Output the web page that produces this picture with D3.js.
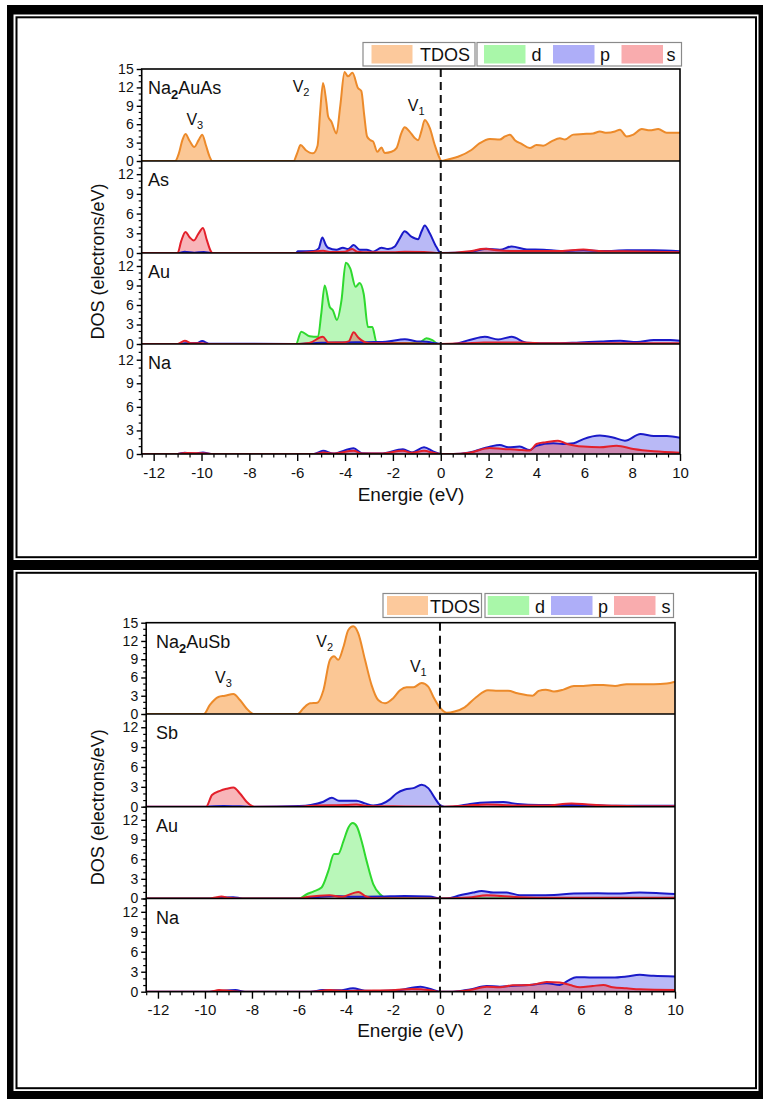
<!DOCTYPE html>
<html>
<head>
<meta charset="utf-8">
<script src="https://cdn.jsdelivr.net/npm/d3@7"></script>
<style>
  body { margin: 0; background: #fff; }
  svg { display: block; }
  text { font-family: "Liberation Sans", Arial, sans-serif; fill: #111; }
</style>
</head>
<body>
<svg id="chart" width="763" height="1099"></svg>
<script>
// ---------- data: [energy (eV), DOS (electrons/eV)] ----------
const energyDomain = [-12.5, 10];
const xTickValues = [-12, -10, -8, -6, -4, -2, 0, 2, 4, 6, 8, 10];
const yTicksTotal = [0, 3, 6, 9, 12, 15];
const yTicksPartial = [0, 3, 6, 9, 12];

// Na2AuAs
const asTdos = [[-12.5,0],[-11.1,0],[-10.95,1.2],[-10.8,3.4],[-10.67,4.4],[-10.5,3.3],[-10.3,2.3],[-10.12,3.4],[-9.97,4.3],[-9.82,2.6],[-9.65,0.6],[-9.55,0],[-6.15,0],[-6.0,1.3],[-5.86,2.6],[-5.65,1.8],[-5.34,1.25],[-5.15,2.5],[-5.05,7.5],[-4.92,12.7],[-4.78,9.5],[-4.71,7.3],[-4.57,6.4],[-4.36,4.5],[-4.2,9.0],[-4.02,14.5],[-3.88,13.8],[-3.69,14.4],[-3.46,11.9],[-3.32,11.4],[-3.2,7.5],[-3.08,4.0],[-2.94,3.4],[-2.83,3.2],[-2.65,1.5],[-2.48,2.2],[-2.34,1.3],[-2.06,1.5],[-1.85,2.1],[-1.65,4.5],[-1.51,5.5],[-1.3,4.8],[-1.1,3.8],[-0.95,3.4],[-0.8,5.0],[-0.67,6.7],[-0.46,5.4],[-0.25,2.6],[-0.04,0.4],[0.02,0],[0.3,0.25],[0.72,0.7],[1.28,1.8],[1.63,2.9],[2.05,3.6],[2.47,3.5],[2.68,4.0],[2.89,4.3],[3.1,3.4],[3.38,2.8],[3.72,2.1],[4.0,2.6],[4.28,2.5],[4.63,3.2],[4.98,3.7],[5.19,3.5],[5.54,4.3],[5.95,4.4],[6.37,4.5],[6.65,4.8],[6.93,4.6],[7.28,4.8],[7.49,5.1],[7.77,4.0],[8.05,4.3],[8.4,5.2],[8.74,5.0],[9.09,5.2],[9.44,4.6],[9.72,4.6],[10,4.6]];
const asAsS = [[-12.5,0],[-11.0,0],[-10.85,1.8],[-10.67,3.2],[-10.5,2.4],[-10.32,1.9],[-10.12,3.0],[-9.94,3.8],[-9.78,2.0],[-9.6,0.2],[-9.55,0],[-6.0,0],[-5.5,0.1],[-4.92,0.35],[-4.6,0.15],[-4.0,0.2],[-3.7,0.6],[-3.5,0.2],[-3.0,0.1],[-2,0.1],[-1.5,0.2],[-0.7,0.15],[0,0],[0.6,0.05],[1.2,0.25],[1.84,0.65],[2.33,0.4],[3.03,0.3],[4.3,0.3],[5.0,0.3],[5.96,0.55],[6.6,0.3],[7.6,0.25],[10,0.1]];
const asAsP = [[-12.5,0],[-11.0,0],[-10.7,0.2],[-10.3,0.05],[-9.9,0.15],[-9.6,0],[-6.05,0],[-5.97,0.25],[-5.3,0.3],[-5.1,0.7],[-4.95,2.35],[-4.8,1.2],[-4.71,0.8],[-4.36,0.5],[-4.09,0.8],[-3.88,0.6],[-3.64,1.2],[-3.39,0.5],[-3.1,0.5],[-2.83,0.2],[-2.48,0.8],[-2.2,0.6],[-1.92,1.0],[-1.7,2.3],[-1.51,3.3],[-1.23,2.5],[-0.95,2.1],[-0.8,3.3],[-0.67,4.2],[-0.46,3.0],[-0.18,0.9],[0,0],[0.6,0.02],[1.21,0.15],[1.91,0.65],[2.47,0.5],[2.96,1.0],[3.6,0.55],[4.3,0.5],[5.0,0.3],[5.96,0.4],[6.8,0.3],[7.78,0.4],[8.9,0.4],[10,0.25]];
const asAuD = [[-12.5,0],[-6.05,0],[-5.83,1.9],[-5.48,1.2],[-5.13,1.1],[-5.0,4.5],[-4.85,9.0],[-4.64,5.7],[-4.51,5.2],[-4.34,3.7],[-4.15,6.7],[-3.97,12.5],[-3.78,11.6],[-3.56,8.8],[-3.39,9.4],[-3.22,7.7],[-3.04,2.6],[-2.86,2.6],[-2.69,0.35],[-2.4,0.15],[-1.5,0.15],[-0.9,0.2],[-0.6,0.9],[-0.35,0.6],[-0.1,0],[10,0]];
const asAuS = [[-12.5,0],[-11.0,0],[-10.7,0.5],[-10.4,0.1],[-10.0,0.1],[-9.6,0],[-6.0,0],[-5.5,0.15],[-4.93,1.1],[-4.7,0.25],[-4.1,0.25],[-3.85,0.4],[-3.64,1.8],[-3.45,1.0],[-3.32,0.6],[-3.0,0.1],[-1.5,0.1],[0,0],[1.0,0.1],[1.8,0.25],[2.96,0.25],[3.6,0.2],[4.5,0.1],[10,0.1]];
const asAuP = [[-12.5,0],[-11.0,0],[-10.7,0.1],[-10.2,0.15],[-9.97,0.45],[-9.7,0.05],[-6.0,0],[-5.0,0.2],[-4.0,0.25],[-2.8,0.3],[-2.3,0.35],[-1.5,0.75],[-1.0,0.4],[-0.6,0.35],[-0.2,0.1],[0,0],[0.5,0],[1.2,0.6],[1.84,1.1],[2.4,0.7],[2.96,1.1],[3.6,0.2],[4.6,0.1],[5.8,0.25],[6.7,0.4],[7.5,0.5],[8.2,0.3],[8.9,0.6],[9.6,0.6],[10,0.5]];
const asNaS = [[-12.5,0],[-11,0],[-10.7,0.12],[-10,0.1],[-9.6,0],[-5.3,0],[-4.9,0.2],[-4.5,0.05],[-3.64,0.4],[-3.3,0.05],[-2.5,0.05],[-1.58,0.4],[-1.2,0.15],[-0.7,0.4],[-0.3,0.15],[0,0],[0.52,0],[1.2,0.17],[2.05,0.77],[2.6,0.64],[3.2,0.55],[3.72,0.43],[4.0,1.28],[4.4,1.5],[4.9,1.7],[5.28,1.28],[5.96,0.94],[6.65,0.85],[7.35,1.06],[8.05,0.64],[8.9,0.34],[10,0.17]];
const asNaP = [[-12.5,0],[-11.0,0],[-10.7,0.17],[-10.3,0.05],[-9.94,0.2],[-9.6,0],[-5.3,0],[-4.92,0.4],[-4.5,0.05],[-3.64,0.72],[-3.3,0.1],[-2.5,0.05],[-1.58,0.6],[-1.2,0.2],[-0.7,0.85],[-0.3,0.3],[0,0],[0.52,0],[1.2,0.2],[2.05,0.94],[2.47,1.15],[2.82,0.85],[3.3,0.94],[3.72,0.5],[4.0,1.06],[4.7,1.36],[5.1,1.28],[5.55,1.36],[5.96,1.9],[6.65,2.34],[7.2,2.1],[7.7,1.7],[8.35,2.55],[8.9,2.3],[9.45,2.3],[10,2.05]];

// Na2AuSb
const sbTdos = [[-12.5,0],[-10.05,0],[-9.79,1.5],[-9.43,2.8],[-9.15,3.0],[-8.79,3.3],[-8.51,2.3],[-8.23,0.9],[-8.0,0.1],[-7.9,0],[-6.05,0],[-5.82,0.9],[-5.53,1.75],[-5.22,1.85],[-4.96,3.9],[-4.68,8.9],[-4.51,9.5],[-4.33,8.9],[-4.11,11.0],[-3.9,13.8],[-3.69,14.4],[-3.48,13.3],[-3.19,8.9],[-2.91,4.75],[-2.63,2.3],[-2.34,1.75],[-1.99,2.6],[-1.7,3.9],[-1.42,4.4],[-1.13,4.4],[-0.78,5.1],[-0.5,4.5],[-0.28,2.8],[-0.03,1.2],[0.28,0.2],[0.62,0.4],[1.05,1.1],[1.55,2.8],[2.04,3.9],[2.47,3.8],[2.9,3.8],[3.3,3.4],[3.94,3.0],[4.2,3.8],[4.5,4.0],[4.85,3.7],[5.25,4.0],[5.7,4.6],[6.1,4.6],[6.55,4.75],[6.95,4.75],[7.45,4.6],[7.94,4.9],[8.5,4.9],[9.1,4.9],[9.65,5.0],[10,5.3]];
const sbSbS = [[-12.5,0],[-9.95,0],[-9.7,1.76],[-9.36,2.4],[-9.08,2.7],[-8.79,2.9],[-8.51,2.0],[-8.23,0.75],[-8.0,0.1],[-7.9,0],[-6.0,0],[-5.2,0.2],[-4.0,0.25],[-3.55,0.35],[-3.1,0.1],[-2,0.05],[0,0],[1.1,0.15],[2.0,0.35],[3.3,0.2],[4.5,0.2],[5.6,0.5],[6.3,0.35],[7.5,0.15],[10,0.05]];
const sbSbP = [[-12.5,0],[-10,0],[-9.2,0.1],[-8.5,0.05],[-8,0],[-6.0,0.1],[-5.5,0.25],[-4.96,0.75],[-4.6,1.36],[-4.3,0.9],[-3.97,0.9],[-3.55,0.9],[-3.19,0.5],[-2.84,0.2],[-2.48,0.4],[-2.13,1.1],[-1.85,2.0],[-1.49,2.6],[-1.13,2.8],[-0.78,3.3],[-0.5,2.8],[-0.21,1.26],[0,0.25],[0.2,0],[0.55,0],[1.1,0.3],[1.7,0.6],[2.7,0.7],[3.3,0.4],[4.2,0.25],[5.35,0.25],[6.3,0.25],[7.5,0.15],[10,0.15]];
const sbAuD = [[-12.5,0],[-6.0,0],[-5.67,0.65],[-5.39,1.06],[-5.04,1.67],[-4.75,4.2],[-4.51,6.8],[-4.33,6.8],[-4.11,8.7],[-3.9,10.8],[-3.71,11.5],[-3.54,11.0],[-3.33,8.7],[-3.12,5.7],[-2.84,2.2],[-2.55,0.65],[-2.34,0.15],[-2.0,0],[10,0]];
const sbAuS = [[-12.5,0],[-9.8,0],[-9.5,0.2],[-9.3,0.3],[-9.0,0.1],[-8.6,0],[-6.0,0],[-5.6,0.25],[-4.7,0.5],[-4.2,0.25],[-3.47,1.0],[-3.2,0.4],[-2.9,0.05],[0,0],[1.2,0.15],[2.0,0.5],[2.6,0.4],[3.4,0.2],[4.8,0.1],[10,0.1]];
const sbAuP = [[-12.5,0],[-9.8,0],[-9.4,0.1],[-8.8,0.2],[-8.4,0],[-6.0,0],[-5.4,0.15],[-4.5,0.4],[-3.9,0.25],[-2.55,0.3],[-1.5,0.4],[-0.43,0.3],[0,0],[0.3,0],[0.85,0.5],[1.4,0.9],[1.77,1.15],[2.27,0.9],[2.84,0.9],[3.4,0.5],[4.1,0.5],[4.85,0.55],[5.7,0.75],[6.7,0.8],[7.6,0.75],[8.5,0.9],[9.2,0.85],[10,0.7]];
const sbNaS = [[-12.5,0],[-9.8,0],[-9.4,0.25],[-8.9,0.1],[-8.5,0],[-5.5,0],[-4.7,0.25],[-4.0,0.1],[-3.3,0.15],[-1.9,0.25],[-1.2,0.4],[-0.8,0.35],[-0.3,0.15],[0,0],[0.55,0],[1.28,0.25],[1.99,0.76],[2.55,0.66],[3.1,0.96],[3.8,1.0],[4.25,1.27],[4.54,1.47],[5.1,1.37],[5.53,1.0],[5.96,0.66],[6.5,0.86],[6.95,1.0],[7.35,0.66],[7.94,0.5],[8.5,0.35],[10,0.25]];
const sbNaP = [[-12.5,0],[-9.8,0],[-9.4,0.1],[-8.7,0.25],[-8.3,0],[-5.5,0],[-5.0,0.25],[-4.3,0.2],[-3.7,0.5],[-3.2,0.15],[-2.6,0.1],[-1.8,0.2],[-0.83,0.76],[-0.4,0.4],[0,0],[0.55,0],[1.28,0.35],[1.99,0.86],[2.55,0.76],[3.0,0.86],[3.8,1.0],[4.54,1.27],[5.1,1.0],[5.45,1.67],[5.8,2.18],[6.5,2.13],[7.35,2.13],[7.94,2.28],[8.5,2.53],[9.08,2.38],[10,2.28]];

// valence band labels: [name, subscript, energy, DOS]
const asPeakLabels = [["V","3",-10.63,5.9],["V","2",-6.19,11.3],["V","1",-1.38,8.2]];
const sbPeakLabels = [["V","3",-9.57,5.1],["V","2",-5.26,11.0],["V","1",-1.28,6.9]];

// ---------- styles ----------
const STYLE = {
  tdos: { line: "#ec8a2a", fill: "#fbc795", swatch: "#fcc99c" },
  d:    { line: "#2fd92f", fill: "rgba(70,235,70,0.38)", swatch: "#a9f7a9" },
  p:    { line: "#1a1ac8", fill: "rgba(70,70,232,0.38)", swatch: "#aeaef8" },
  s:    { line: "#e3202b", fill: "rgba(236,60,70,0.38)", swatch: "#f9acae" }
};
const TICK_FONT = 14;

const svg = d3.select("#chart");

// page frame: thick black border with a thin inner rule around each figure
svg.append("rect").attr("x", 7).attr("y", 5).attr("width", 756).attr("height", 1094).attr("fill", "#000");
[[14.5, 560], [570, 1091]].forEach(([y0, y1]) => {
  svg.append("rect").attr("x", 13.5).attr("y", y0).attr("width", 745).attr("height", y1 - y0).attr("fill", "#fff");
  svg.append("rect").attr("x", 16.5).attr("y", y0 + 2.8).attr("width", 739.5).attr("height", y1 - y0 - 5.6)
    .attr("fill", "#fff").attr("stroke", "#000").attr("stroke-width", 2);
});

const figures = [
  {
    id: "as", formula: ["Na", "2", "AuAs"], left: 141.7, right: 680, labelX: 148,
    peaks: asPeakLabels, titleY: 501, axisTitleX: 411,
    rows: [
      { top: 69,  bottom: 161, max: 15, ticks: yTicksTotal, label: null, tdos: asTdos },
      { top: 161, bottom: 253, max: 14, ticks: yTicksPartial, label: "As", series: [["p", asAsP], ["s", asAsS]] },
      { top: 253, bottom: 344, max: 14, ticks: yTicksPartial, label: "Au", series: [["d", asAuD], ["p", asAuP], ["s", asAuS]] },
      { top: 344, bottom: 454, max: 14, ticks: yTicksPartial, label: "Na", series: [["p", asNaP], ["s", asNaS]] }
    ],
    legend: { y: 42.5, h: 23.5, box1: [363, 475], swatchT: 371.5, textT: 420,
              box2: [477, 681.5], items: [["d", 484, 531.5], ["p", 553, 600], ["s", 621.5, 666.5]] }
  },
  {
    id: "sb", formula: ["Na", "2", "AuSb"], left: 146.2, right: 675, labelX: 156,
    peaks: sbPeakLabels, titleY: 1037, axisTitleX: 410.5,
    rows: [
      { top: 622.7, bottom: 714,   max: 15, ticks: yTicksTotal, label: null, tdos: sbTdos },
      { top: 714,   bottom: 806.7, max: 14, ticks: yTicksPartial, label: "Sb", series: [["p", sbSbP], ["s", sbSbS]] },
      { top: 806.7, bottom: 898.5, max: 14, ticks: yTicksPartial, label: "Au", series: [["d", sbAuD], ["p", sbAuP], ["s", sbAuS]] },
      { top: 898.5, bottom: 991.7, max: 14, ticks: yTicksPartial, label: "Na", series: [["p", sbNaP], ["s", sbNaS]] }
    ],
    legend: { y: 593.5, h: 24, box1: [383, 481.5], swatchT: 387, textT: 430,
              box2: [485, 673.5], items: [["d", 487.7, 535], ["p", 551, 598], ["s", 614, 661.5]] }
  }
];

const fmt = d => String(d);

figures.forEach(fig => {
  const g = svg.append("g");
  const x = d3.scaleLinear().domain(energyDomain).range([fig.left, fig.right]);
  const top = fig.rows[0].top, bottom = fig.rows[fig.rows.length - 1].bottom;

  fig.rows.forEach((row, i) => {
    const y = d3.scaleLinear().domain([0, row.max]).range([row.bottom, row.top]);
    const clipId = `clip-${fig.id}-${i}`;
    g.append("clipPath").attr("id", clipId).append("rect")
      .attr("x", fig.left).attr("y", row.top).attr("width", fig.right - fig.left).attr("height", row.bottom - row.top);
    const plot = g.append("g").attr("clip-path", `url(#${clipId})`);

    const area = d3.area().x(d => x(d[0])).y0(y(0)).y1(d => y(d[1])).curve(d3.curveMonotoneX);
    const line = d3.line().x(d => x(d[0])).y(d => y(d[1])).curve(d3.curveMonotoneX);

    const series = row.tdos ? [["tdos", row.tdos]] : row.series;
    series.forEach(([k, data]) => {
      plot.append("path").datum(data).attr("d", area).attr("fill", STYLE[k].fill);
    });
    series.forEach(([k, data]) => {
      plot.append("path").datum(data).attr("d", line).attr("fill", "none")
        .attr("stroke", STYLE[k].line).attr("stroke-width", 2).attr("stroke-linejoin", "round");
    });

    // y axis: major and minor ticks
    const minors = d3.range(0, row.max + 0.001, 1).filter(v => !row.ticks.includes(v));
    const ya = g.append("g").attr("transform", `translate(${fig.left},0)`)
      .call(d3.axisLeft(y).tickValues(row.ticks).tickSize(5).tickPadding(3).tickFormat(fmt));
    ya.select(".domain").remove();
    ya.selectAll("text").attr("font-size", TICK_FONT).attr("fill", "#111").style("font-family", '"Liberation Sans", Arial, sans-serif');
    ya.selectAll("line").attr("stroke", "#000").attr("stroke-width", 1.4);
    const ym = g.append("g").attr("transform", `translate(${fig.left},0)`)
      .call(d3.axisLeft(y).tickValues(minors).tickSize(3).tickFormat(""));
    ym.select(".domain").remove();
    ym.selectAll("line").attr("stroke", "#000").attr("stroke-width", 1.2);

    // separator between stacked panels
    if (i > 0) {
      g.append("line").attr("x1", fig.left).attr("x2", fig.right).attr("y1", row.top).attr("y2", row.top)
        .attr("stroke", "#000").attr("stroke-width", 1.6);
    }
    if (row.label) {
      g.append("text").attr("x", fig.labelX).attr("y", row.top + 25).attr("font-size", 18).text(row.label);
    }
  });

  // Fermi level
  g.append("line").attr("x1", x(0)).attr("x2", x(0)).attr("y1", top).attr("y2", bottom)
    .attr("stroke", "#111").attr("stroke-width", 2).attr("stroke-dasharray", "8,5");

  // outer plot frame
  g.append("rect").attr("x", fig.left).attr("y", top).attr("width", fig.right - fig.left).attr("height", bottom - top)
    .attr("fill", "none").attr("stroke", "#000").attr("stroke-width", 1.6);

  // x axis
  const xa = g.append("g").attr("transform", `translate(0,${bottom})`)
    .call(d3.axisBottom(x).tickValues(xTickValues).tickSize(7).tickPadding(6).tickFormat(fmt));
  xa.select(".domain").remove();
  xa.selectAll("text").attr("font-size", 15).attr("fill", "#111").style("font-family", '"Liberation Sans", Arial, sans-serif');
  xa.selectAll("line").attr("stroke", "#000").attr("stroke-width", 1.4);
  const xMinor = d3.range(energyDomain[0], energyDomain[1] + 0.001, 0.5).filter(v => !xTickValues.includes(v));
  const xm = g.append("g").attr("transform", `translate(0,${bottom})`)
    .call(d3.axisBottom(x).tickValues(xMinor).tickSize(3.5).tickFormat(""));
  xm.select(".domain").remove();
  xm.selectAll("line").attr("stroke", "#000").attr("stroke-width", 1.2);

  // axis titles
  g.append("text").attr("x", fig.axisTitleX).attr("y", fig.titleY).attr("text-anchor", "middle")
    .attr("font-size", 19).text("Energie (eV)");
  g.append("text").attr("transform", `translate(104,${(top + bottom) / 2}) rotate(-90)`)
    .attr("text-anchor", "middle").attr("font-size", 18).text("DOS (electrons/eV)");

  // compound name with bold subscript
  const name = g.append("text").attr("x", fig.labelX).attr("y", top + 25).attr("font-size", 18);
  name.append("tspan").text(fig.formula[0]);
  name.append("tspan").attr("dy", 5).attr("font-size", 13).attr("font-weight", "bold").text(fig.formula[1]);
  name.append("tspan").attr("dy", -5).text(fig.formula[2]);

  // valence band labels
  const yT = d3.scaleLinear().domain([0, fig.rows[0].max]).range([fig.rows[0].bottom, fig.rows[0].top]);
  fig.peaks.forEach(([v, sub, e, val]) => {
    const t = g.append("text").attr("x", x(e)).attr("y", yT(val)).attr("font-size", 16);
    t.append("tspan").text(v);
    t.append("tspan").attr("dy", 4).attr("font-size", 11).text(sub);
  });

  // legend
  const L = fig.legend;
  const lg = g.append("g");
  lg.append("rect").attr("x", L.box1[0]).attr("y", L.y).attr("width", L.box1[1] - L.box1[0]).attr("height", L.h)
    .attr("fill", "#fff").attr("stroke", "#8a8a8a").attr("stroke-width", 1.2);
  lg.append("rect").attr("x", L.swatchT).attr("y", L.y + 2.5).attr("width", 41).attr("height", L.h - 5).attr("fill", STYLE.tdos.swatch);
  lg.append("text").attr("x", L.textT).attr("y", L.y + L.h - 5).attr("font-size", 18).text("TDOS");
  lg.append("rect").attr("x", L.box2[0]).attr("y", L.y).attr("width", L.box2[1] - L.box2[0]).attr("height", L.h)
    .attr("fill", "#fff").attr("stroke", "#8a8a8a").attr("stroke-width", 1.2);
  L.items.forEach(([k, sx, tx]) => {
    lg.append("rect").attr("x", sx).attr("y", L.y + 2.5).attr("width", 41.5).attr("height", L.h - 5).attr("fill", STYLE[k].swatch);
    lg.append("text").attr("x", tx).attr("y", L.y + L.h - 5).attr("font-size", 18).text(k);
  });
});
</script>
</body>
</html>
